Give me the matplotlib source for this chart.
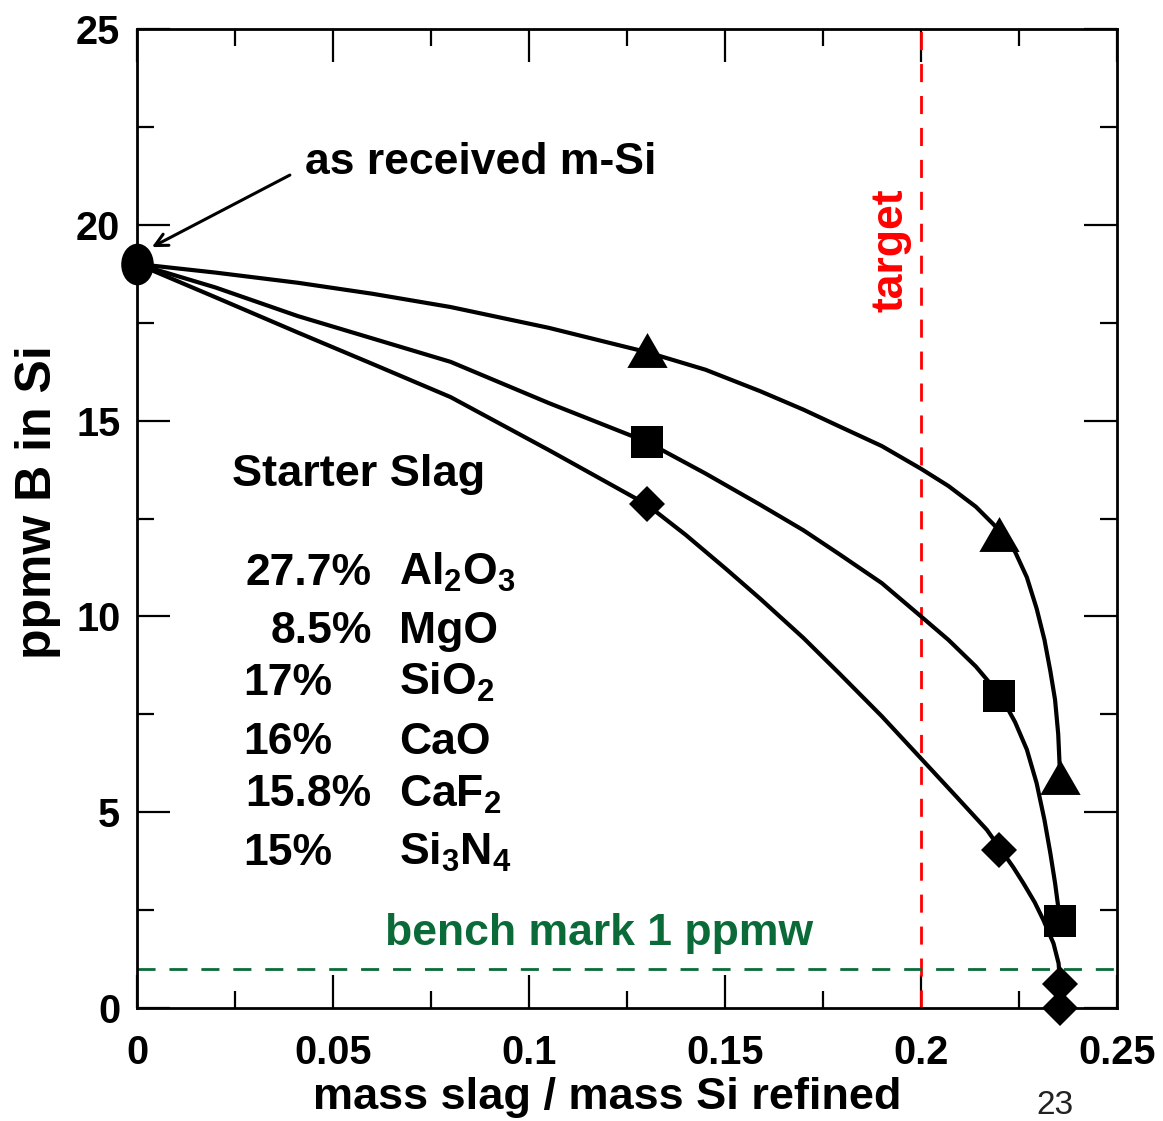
import numpy as np
import matplotlib
matplotlib.use("Agg")
import matplotlib.pyplot as plt
from matplotlib.path import Path
from matplotlib.transforms import Affine2D

plt.rcParams['font.family'] = ['Liberation Sans', 'DejaVu Sans']
plt.rcParams['font.weight'] = 'bold'
plt.rcParams['mathtext.fontset'] = 'custom'
plt.rcParams['mathtext.rm'] = 'Liberation Sans:bold'
plt.rcParams['mathtext.it'] = 'Liberation Sans:bold'
plt.rcParams['mathtext.bf'] = 'Liberation Sans:bold'
plt.rcParams['mathtext.default'] = 'rm'

# ---------------- data ----------------
start_x = [0.0]
start_y = [19.0]

tri_x = [0.13, 0.22, 0.2355]
tri_y = [16.8, 12.1, 5.9]
sq_x = [0.13, 0.22, 0.2355]
sq_y = [14.46, 7.96, 2.21]
dia_x = [0.13, 0.22, 0.2355, 0.2355]
dia_y = [12.86, 4.04, 0.61, 0.0]

# fitted curves as drawn in the picture
tri_curve_x = [0.0, 0.02, 0.041, 0.06, 0.08, 0.105, 0.13, 0.145, 0.159, 0.17, 0.179,
               0.19, 0.2, 0.207, 0.214, 0.22, 0.224, 0.227, 0.2295, 0.2315, 0.233,
               0.2342, 0.235, 0.2355]
tri_curve_y = [19.0, 18.78, 18.52, 18.24, 17.9, 17.37, 16.75, 16.3, 15.75, 15.28, 14.86,
               14.35, 13.77, 13.33, 12.8, 12.2, 11.65, 11.0, 10.2, 9.4, 8.6,
               7.87, 7.0, 5.9]
sq_curve_x = [0.0, 0.02, 0.041, 0.06, 0.08, 0.105, 0.13, 0.145, 0.159, 0.17, 0.179,
              0.19, 0.2, 0.207, 0.214, 0.2204, 0.224, 0.227, 0.2295, 0.2315, 0.233,
              0.2342, 0.2355]
sq_curve_y = [19.0, 18.4, 17.67, 17.1, 16.5, 15.45, 14.46, 13.65, 12.85, 12.2, 11.6,
              10.85, 10.0, 9.4, 8.72, 7.96, 7.3, 6.6, 5.74, 4.8, 3.95,
              3.19, 2.21]
dia_curve_x = [0.0, 0.02, 0.041, 0.06, 0.08, 0.105, 0.13, 0.14, 0.1504, 0.159, 0.17,
               0.179, 0.19, 0.2003, 0.209, 0.2168, 0.2204, 0.2235, 0.2261, 0.229,
               0.2312, 0.2338, 0.2351, 0.2355]
dia_curve_y = [19.0, 18.15, 17.25, 16.45, 15.6, 14.25, 12.86, 12.08, 11.2, 10.45, 9.45,
               8.56, 7.45, 6.34, 5.4, 4.55, 4.04, 3.6, 3.19, 2.7,
               2.25, 1.65, 1.14, 0.61]

target_x = 0.2
benchmark_y = 1.0

x_ticks = [0, 0.05, 0.1, 0.15, 0.2, 0.25]
x_ticklabels = ['0', '0.05', '0.1', '0.15', '0.2', '0.25']
y_ticks = [0, 5, 10, 15, 20, 25]
y_ticklabels = ['0', '5', '10', '15', '20', '25']

pct_right = ['27.7%', '8.5%', '15.8%']
formulas = [r'Al$_2$O$_3$', 'MgO', r'SiO$_2$', 'CaO', r'CaF$_2$', r'Si$_3$N$_4$']
percents = ['27.7%', '8.5%', '17%', '16%', '15.8%', '15%']

# ---------------- figure ----------------
W, H = 1163, 1121
fig = plt.figure(figsize=(W / 100, H / 100), dpi=100)
ax = fig.add_axes([137 / W, 1 - 1008 / H, (1117 - 137) / W, (1008 - 29) / H])
ax.set_xlim(0, 0.25)
ax.set_ylim(0, 25)

# ellipse marker for the starting point
ell = Path.unit_circle().transformed(Affine2D().scale(1.0, 1.28))
tri_marker = [(-1, -0.866), (1, -0.866), (0, 0.866), (-1, -0.866)]

lw = 3.0
for cx, cy in [(tri_curve_x, tri_curve_y), (sq_curve_x, sq_curve_y),
               (dia_curve_x, dia_curve_y)]:
    ax.plot(cx, cy, color='black', lw=lw, solid_capstyle='round',
            solid_joinstyle='round', zorder=3)

ax.plot(tri_x, tri_y, linestyle='none', marker=tri_marker, markersize=29,
        color='black', mew=0, zorder=5, clip_on=False)
ax.plot(sq_x, sq_y, linestyle='none', marker='s', markersize=23.5,
        color='black', mew=0, zorder=5, clip_on=False)
ax.plot(dia_x, dia_y, linestyle='none', marker='D', markersize=18.5,
        color='black', mew=0, zorder=5, clip_on=False)
ax.plot(start_x, start_y, linestyle='none', marker=ell, markersize=30,
        color='black', mew=0, zorder=6, clip_on=False)

# reference lines
ax.axvline(target_x, color='#ff0000', lw=2.0, dashes=(6.5, 5), zorder=2)
ax.axhline(benchmark_y, color='#0a6b38', lw=2.0, dashes=(6.5, 5), zorder=2)

# ticks
ax.set_xticks(x_ticks)
ax.set_xticklabels(x_ticklabels)
ax.set_yticks(y_ticks)
ax.set_yticklabels(y_ticklabels)
ax.set_xticks(np.array([0.025, 0.075, 0.125, 0.175, 0.225]), minor=True)
ax.set_yticks(np.array([2.5, 7.5, 12.5, 17.5, 22.5]), minor=True)
ax.tick_params(which='major', direction='in', length=24, width=1.6,
               top=True, right=True, labelsize=28.5)
ax.tick_params(which='minor', direction='in', length=12, width=1.6,
               top=True, right=True)
ax.tick_params(axis='x', which='major', pad=19)
ax.tick_params(axis='y', which='major', pad=12)
for lab in ax.get_xticklabels() + ax.get_yticklabels():
    lab.set_fontweight('bold')
for sp in ax.spines.values():
    sp.set_linewidth(2.0)

# axis labels
fig.text(607 / W, 1 - 1097 / H, 'mass slag / mass Si refined',
         ha='center', va='center', fontsize=32.5, fontweight='bold')
fig.text(38 / W, 1 - 502 / H, 'ppmw B in Si', rotation=90,
         ha='center', va='center', fontsize=36, fontweight='bold')
fig.text(1055 / W, 1 - 1105 / H, '23', ha='center', va='center',
         fontsize=24, fontweight='normal', color='#222222')

# annotations
ax.annotate('', xy=(0.0038, 19.43), xytext=(0.039, 21.27),
            arrowprops=dict(arrowstyle='->,head_length=0.9,head_width=0.45',
                            lw=2.2, color='black', shrinkA=0, shrinkB=0),
            annotation_clip=False)
ax.text(0.0429, 21.29, 'as received m-Si', ha='left', va='baseline',
        fontsize=32, fontweight='bold')
ax.text(0.0242, 13.33, 'Starter Slag', ha='left', va='baseline',
        fontsize=32.5, fontweight='bold')

row_y = [10.80, 9.32, 8.0, 6.49, 5.15, 3.66]
for p, f, yy in zip(percents, formulas, row_y):
    if p in pct_right:
        ax.text(0.0599, yy, p, ha='right', va='baseline', fontsize=32, fontweight='bold')
    else:
        ax.text(0.0270, yy, p, ha='left', va='baseline', fontsize=32, fontweight='bold')
    ax.text(0.0668, yy, f, ha='left', va='baseline', fontsize=32, fontweight='bold')

ax.text(0.0633, 1.61, 'bench mark 1 ppmw', ha='left', va='baseline',
        fontsize=32, fontweight='bold', color='#0a6b38')
ax.text(0.1923, 19.35, 'target', rotation=90, ha='center', va='center',
        fontsize=32, fontweight='bold', color='#ff0000')

fig.savefig('out.png', dpi=100)
